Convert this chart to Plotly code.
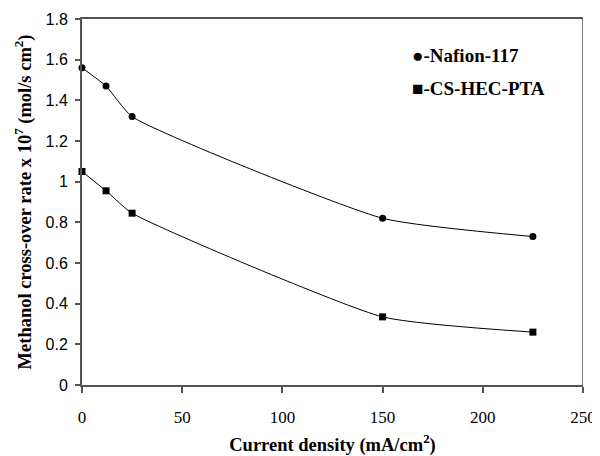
import plotly.graph_objects as go

current_density = [0, 12, 25, 150, 225]
nafion_117 = [1.56, 1.47, 1.32, 0.82, 0.73]
cs_hec_pta = [1.05, 0.955, 0.845, 0.335, 0.26]
x_ticks = [0, 50, 100, 150, 200, 250]
y_ticks = [0, 0.2, 0.4, 0.6, 0.8, 1.0, 1.2, 1.4, 1.6, 1.8]
y_tick_text = ["0", "0.2", "0.4", "0.6", "0.8", "1", "1.2", "1.4", "1.6", "1.8"]

fig = go.Figure()
fig.add_trace(go.Scatter(x=current_density, y=nafion_117, mode="lines+markers",
                         line=dict(color="black", width=1, shape="spline", smoothing=0.5),
                         marker=dict(symbol="circle", size=7, color="black"),
                         name="Nafion-117", cliponaxis=False))
fig.add_trace(go.Scatter(x=current_density, y=cs_hec_pta, mode="lines+markers",
                         line=dict(color="black", width=1, shape="spline", smoothing=0.5),
                         marker=dict(symbol="square", size=7, color="black"),
                         name="CS-HEC-PTA", cliponaxis=False))

serif = "Liberation Serif, Times New Roman, serif"
sans = "Liberation Sans, Arial, sans-serif"

# page body has an 8px margin, so the figure is sized to fit the 600x456 window
fig.update_layout(
    width=592, height=448,
    margin=dict(l=74, r=17, t=11, b=71),
    plot_bgcolor="white", paper_bgcolor="white",
    showlegend=False,
    xaxis=dict(range=[0, 250], tickvals=x_ticks, ticks="outside", ticklen=6,
               tickcolor="#555", tickwidth=1.5, automargin=False,
               showline=True, linecolor="#555", linewidth=2, mirror=True,
               showgrid=False, zeroline=False,
               tickfont=dict(family=serif, size=17, color="black"),
               ticklabelstandoff=10,
               title=dict(text="<b>Current density (mA/cm<sup>2</sup>)</b>",
                          font=dict(family=serif, size=18.5, color="black"), standoff=13)),
    yaxis=dict(range=[0, 1.8], tickvals=y_ticks, ticktext=y_tick_text, ticks="outside", ticklen=5,
               tickcolor="#555", tickwidth=1.5, automargin=False,
               showline=True, linecolor="#555", linewidth=2,
               showgrid=False, zeroline=False,
               tickfont=dict(family=sans, size=16, color="black"),
               ticklabelstandoff=4,
               title=dict(text="<b>Methanol cross-over rate x 10<sup>7</sup> (mol/s cm<sup>2</sup>)</b>",
                          font=dict(family=serif, size=18.5, color="black"), standoff=9)),
)

fig.add_shape(type="line", xref="x", yref="paper", x0=250, x1=250, y0=0, y1=1,
              line=dict(color="black", width=1))

fig.add_annotation(x=0.655, y=0.90, xref="paper", yref="paper", xanchor="left", yanchor="middle",
                   text="<b>●-Nafion-117</b>", showarrow=False,
                   font=dict(family=serif, size=19, color="black"))
fig.add_annotation(x=0.655, y=0.81, xref="paper", yref="paper", xanchor="left", yanchor="middle",
                   text="<b>■-CS-HEC-PTA</b>", showarrow=False,
                   font=dict(family=serif, size=19, color="black"))

fig.write_html("out.html")
